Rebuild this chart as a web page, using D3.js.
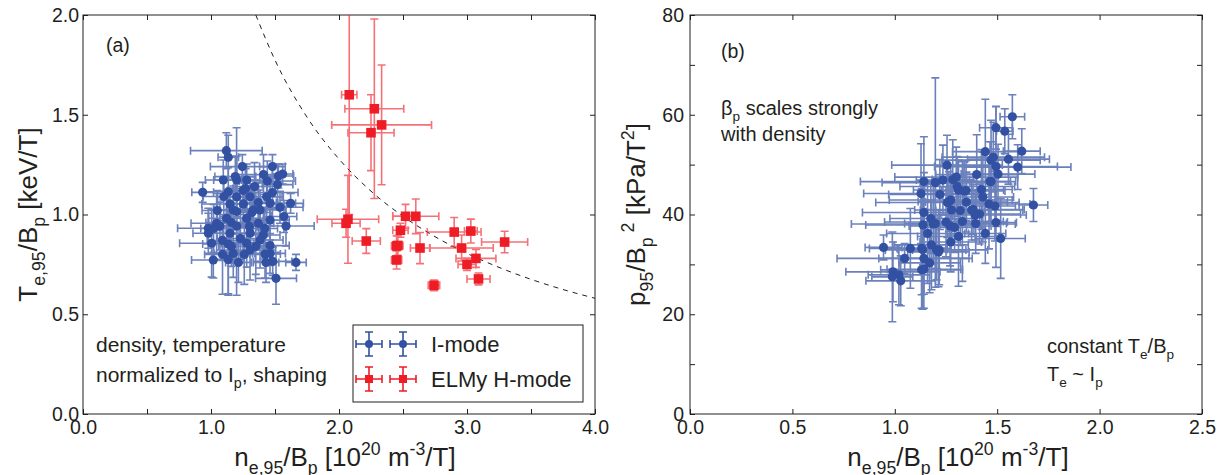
<!DOCTYPE html>
<html><head><meta charset="utf-8">
<script src="https://cdn.jsdelivr.net/npm/d3@7"></script>
<style>
html,body{margin:0;padding:0;background:#fff;}
svg text{font-family:"Liberation Sans",Arial,sans-serif;fill:#231f20;white-space:pre;}
</style></head>
<body>
<svg id="c" width="1223" height="475"></svg>
<script>
// ---------- DATA ----------
// Panel (a): I-mode
const aImodeX    = [1.12,1.135,1.245,1.48,1.56,1.526,1.44,1.201,1.279,1.096,0.935,1.135,1.305,1.435,1.201,1.148,1.253,1.461,1.622,1.539,1.174,1.331,1.383,1.122,1.279,1.461,1.044,0.979,1.07,1.201,1.586,1.37,0.979,1.148,1.305,1.409,1.005,1.135,1.279,1.461,1.383,1.174,1.305,1.461,1.422,1.018,1.135,1.214,1.482,1.664,1.508,1.20,1.34,1.25,1.37,1.05,1.10,1.48,1.30,1.23,1.42,1.09,1.16,1.35,1.26,1.52,1.02,1.19,1.41,1.32,1.16,1.09,1.57,1.43,1.27];
const aImodeY    = [1.32,1.287,1.24,1.24,1.203,1.193,1.168,1.173,1.173,1.173,1.111,1.114,1.089,1.089,1.089,1.053,1.053,1.056,1.056,1.036,1.023,1.023,1.023,0.981,0.981,0.972,0.956,0.931,0.942,0.942,0.942,0.956,0.906,0.906,0.906,0.897,0.856,0.852,0.856,0.844,0.872,0.805,0.822,0.805,0.802,0.772,0.775,0.76,0.765,0.76,0.68,1.015,1.14,1.12,1.06,1.02,1.09,1.11,0.94,0.88,0.93,0.87,0.96,0.84,0.80,1.15,0.93,1.19,1.20,1.01,0.84,0.80,0.99,0.76,1.13];
const aImodeXerr = [0.28,0.08,0.25,0.10,0.08,0.12,0.22,0.18,0.20,0.14,0.085,0.20,0.26,0.12,0.15,0.22,0.12,0.20,0.10,0.18,0.15,0.10,0.20,0.14,0.18,0.15,0.20,0.24,0.10,0.20,0.22,0.12,0.12,0.15,0.14,0.13,0.25,0.20,0.20,0.15,0.18,0.15,0.20,0.12,0.12,0.17,0.12,0.10,0.15,0.08,0.16,0.08,0.16,0.12,0.14,0.12,0.16,0.20,0.12,0.18,0.10,0.12,0.20,0.10,0.14,0.12,0.10,0.16,0.14,0.16,0.10,0.14,0.10,0.10,0.10];
const aImodeYerr = [0.09,0.11,0.06,0.06,0.05,0.06,0.10,0.12,0.08,0.10,0.05,0.12,0.10,0.10,0.10,0.08,0.12,0.10,0.05,0.08,0.12,0.12,0.10,0.14,0.10,0.10,0.15,0.10,0.12,0.13,0.10,0.12,0.10,0.15,0.10,0.12,0.17,0.25,0.12,0.10,0.14,0.12,0.15,0.10,0.12,0.09,0.18,0.10,0.07,0.04,0.13,0.42,0.12,0.08,0.10,0.10,0.10,0.08,0.08,0.12,0.10,0.10,0.10,0.14,0.15,0.10,0.12,0.10,0.10,0.10,0.10,0.20,0.08,0.10,0.10];
// Panel (a): ELMy H-mode
const aHmodeX    = [2.08,2.276,2.333,2.25,2.07,2.055,2.213,2.52,2.60,2.48,2.45,2.46,2.45,2.633,2.90,3.03,3.294,2.958,3.07,3.0,3.09,2.742];
const aHmodeY    = [1.60,1.53,1.449,1.41,0.976,0.956,0.867,0.991,0.991,0.921,0.842,0.845,0.772,0.832,0.912,0.917,0.862,0.832,0.78,0.75,0.677,0.645];
const aHmodeXerr = [0.06,0.23,0.39,0.18,0.24,0.11,0.11,0.10,0.18,0.06,0.04,0.04,0.04,0.075,0.21,0.05,0.18,0.247,0.156,0.07,0.09,0.045];
const aHmodeYerr = [0.60,0.45,0.30,0.19,0.22,0.07,0.062,0.06,0.087,0.035,0.05,0.05,0.045,0.078,0.073,0.06,0.054,0.065,0.045,0.03,0.03,0.027];
// Panel (a): dashed reference curve
const aCurveX = [1.35,1.5,1.75,2.0,2.25,2.5,2.75,3.0,3.25,3.5,3.75,4.0];
const aCurveY = [2.0,1.774,1.488,1.278,1.117,0.991,0.889,0.805,0.735,0.675,0.624,0.58];
// Panel (b): I-mode
const bImodeX    = [1.574,1.494,1.537,1.62,1.442,1.47,1.555,1.60,1.494,1.504,1.255,1.47,1.142,1.198,1.235,1.283,1.311,1.348,1.273,1.264,1.423,1.46,1.489,1.677,1.142,1.176,1.198,1.138,1.277,1.32,1.382,1.414,1.33,1.292,1.395,1.494,1.442,1.517,1.311,1.273,1.16,1.179,1.136,1.217,1.076,0.945,1.048,1.142,1.17,0.991,1.02,0.988,1.029,1.142,1.338,1.375,1.392,1.257,1.128,1.481,1.465,1.305,1.27,1.188,1.213,1.131,1.204,1.131,1.25,1.35,1.43,1.22,1.40,1.30];
const bImodeY    = [59.6,57.4,56.7,52.7,52.6,50.9,51.1,49.5,49.6,48.1,49.9,46.6,46.6,46.4,46.9,47.0,44.9,44.8,42.9,42.6,45.0,42.1,41.7,41.9,40.4,39.2,38.2,37.9,40.9,40.8,41.0,40.1,38.6,37.4,38.2,38.4,36.2,35.2,35.6,34.5,36.2,33.9,33.0,32.9,33.2,33.4,31.2,31.2,30.3,28.5,27.9,27.5,26.7,29.0,44.7,40.9,39.9,42.4,44.2,51.5,46.6,45.6,37.7,38.1,32.5,28.9,32.9,33.2,38.5,42.5,43.5,44.0,48.0,47.5];
const bImodeXerr = [0.06,0.08,0.04,0.09,0.16,0.24,0.20,0.26,0.30,0.18,0.27,0.12,0.31,0.26,0.13,0.10,0.22,0.12,0.30,0.15,0.15,0.20,0.10,0.07,0.30,0.20,0.15,0.28,0.18,0.12,0.25,0.20,0.20,0.15,0.15,0.10,0.10,0.12,0.20,0.15,0.20,0.18,0.12,0.13,0.20,0.09,0.33,0.22,0.15,0.23,0.15,0.10,0.17,0.18,0.20,0.25,0.25,0.35,0.28,0.25,0.10,0.28,0.20,0.40,0.15,0.20,0.25,0.12,0.30,0.20,0.15,0.25,0.20,0.30];
const bImodeYerr = [4.4,4.3,4.5,4.5,10.5,8,5,4.5,12,6,6,8,9,21,7,8,6,6,7,6,8,9,7,3.3,8,7,9,8,6,7,5,6,12,5,6,9,6,8,10,6,10,9,12,7,8,2.5,3,10,6,6,6,9,5,5,6,6,5,7,10,7,8,6,8,8,7,5,6,12,7,6,9,7,8,6];
// Axes ticks
const aXTicks = [0,0.5,1,1.5,2,2.5,3,3.5,4];
const aXLabels = [0,1,2,3,4];
const aYTicks = [0,0.5,1,1.5,2];
const bXTicks = [0,0.5,1,1.5,2,2.5];
const bYTicks = [0,10,20,30,40,50,60,70,80];
const bYLabels = [0,20,40,60,80];
const legendLabels = ["I-mode","ELMy H-mode"];

// ---------- DRAWING ----------
const svg = d3.select("#c");
const BLUE = "#3351a3", RED = "#ee1d25", INK = "#231f20";

function rich(g, x, y, parts, fs, anchor, transform){
  const t = g.append("text").attr("x",x).attr("y",y).attr("font-size",fs)
    .attr("text-anchor",anchor||"start");
  if (transform) t.attr("transform",transform);
  let cur = 0;
  parts.forEach(([s,k])=>{
    const target = k==="sub" ? 0.3*fs : (k==="sup" ? -0.42*fs : 0);
    t.append("tspan").attr("dy",(target-cur).toFixed(2))
      .attr("font-size", k==="n" ? fs : fs*0.68).text(s);
    cur = target;
  });
  return t;
}

function panel(id, xs, ys, xTicks, xLab, yTicks, yLab){
  const g = svg.append("g");
  const [x0,x1] = xs.range(), [y0,y1] = ys.range();
  g.append("clipPath").attr("id","clip"+id).append("rect")
    .attr("x",x0).attr("y",y1).attr("width",x1-x0).attr("height",y0-y1);
  const ax = (axis, tr) => {
    const a = g.append("g").attr("transform",tr).call(axis);
    a.select(".domain").remove();
    a.selectAll("line").attr("stroke",INK);
    a.selectAll("text").attr("font-family",null).attr("font-size",19.5).attr("fill",INK);
    return a;
  };
  ax(d3.axisBottom(xs).tickValues(xTicks).tickSize(-5).tickPadding(6).tickFormat(xLab), `translate(0,${y0})`);
  ax(d3.axisTop(xs).tickValues(xTicks).tickSize(-5).tickFormat(""), `translate(0,${y1})`);
  ax(d3.axisLeft(ys).tickValues(yTicks).tickSize(-5).tickPadding(id==="a"?4:6).tickFormat(yLab), `translate(${x0},0)`);
  ax(d3.axisRight(ys).tickValues(yTicks).tickSize(-5).tickFormat(""), `translate(${x1},0)`);
  g.append("rect").attr("x",x0).attr("y",y1).attr("width",x1-x0).attr("height",y0-y1)
    .attr("fill","none").attr("stroke",INK).attr("stroke-width",1);
  const plot = g.append("g").attr("clip-path",`url(#clip${id})`);
  return {g, plot};
}

function errorbars(plot, xs, ys, X, Y, XE, YE, color, opacity){
  const cap = 4;
  const eb = plot.append("g").attr("stroke",color).attr("stroke-width",1.6).attr("opacity",opacity);
  X.forEach((xv,i)=>{
    const cx = xs(xv), cy = ys(Y[i]);
    const xl = xs(xv-XE[i]), xr = xs(xv+XE[i]);
    const yt = ys(Y[i]+YE[i]), yb = ys(Y[i]-YE[i]);
    const p = d3.path();
    p.moveTo(xl,cy); p.lineTo(xr,cy);
    p.moveTo(xl,cy-cap); p.lineTo(xl,cy+cap);
    p.moveTo(xr,cy-cap); p.lineTo(xr,cy+cap);
    p.moveTo(cx,yt); p.lineTo(cx,yb);
    p.moveTo(cx-cap,yt); p.lineTo(cx+cap,yt);
    p.moveTo(cx-cap,yb); p.lineTo(cx+cap,yb);
    eb.append("path").attr("d",p.toString()).attr("fill","none");
  });
}

// ----- Panel (a)
const xA = d3.scaleLinear().domain([0,4]).range([83,595]);
const yA = d3.scaleLinear().domain([0,2]).range([414,15]);
const PA = panel("a", xA, yA, aXTicks, d=>aXLabels.includes(d)?d.toFixed(1):"", aYTicks, d=>d.toFixed(1));

PA.plot.append("path")
  .attr("d", d3.line().x(d=>xA(d[0])).y(d=>yA(d[1])).curve(d3.curveMonotoneX)(aCurveX.map((v,i)=>[v,aCurveY[i]])))
  .attr("fill","none").attr("stroke",INK).attr("stroke-width",1).attr("stroke-dasharray","5,5");

errorbars(PA.plot, xA, yA, aImodeX, aImodeY, aImodeXerr, aImodeYerr, BLUE, 0.72);
PA.plot.append("g").selectAll("circle").data(aImodeX).join("circle")
  .attr("cx",(d)=>xA(d)).attr("cy",(d,i)=>yA(aImodeY[i])).attr("r",4.6).attr("fill",BLUE);
errorbars(PA.plot, xA, yA, aHmodeX, aHmodeY, aHmodeXerr, aHmodeYerr, RED, 0.62);
PA.plot.append("g").selectAll("rect").data(aHmodeX).join("rect")
  .attr("x",d=>xA(d)-4.8).attr("y",(d,i)=>yA(aHmodeY[i])-4.8).attr("width",9.6).attr("height",9.6).attr("fill",RED);

svg.append("text").attr("x",106).attr("y",52).attr("font-size",19.5).text("(a)");
svg.append("text").attr("x",96).attr("y",352).attr("font-size",21).text("density, temperature");
rich(svg, 96, 382, [["normalized to I","n"],["p","sub"],[", shaping","n"]], 21);

// legend
const lg = svg.append("g");
lg.append("rect").attr("x",353).attr("y",325).attr("width",230).attr("height",77)
  .attr("fill","#fff").attr("stroke",INK).attr("stroke-width",1);
const legendItems = [{c:BLUE, shape:"circle", y:344},{c:RED, shape:"square", y:379}];
legendItems.forEach((it,k)=>{
  [369,403].forEach(cx=>{
    const p = d3.path(), cy = it.y;
    p.moveTo(cx-13,cy); p.lineTo(cx+13,cy);
    p.moveTo(cx-13,cy-4); p.lineTo(cx-13,cy+4);
    p.moveTo(cx+13,cy-4); p.lineTo(cx+13,cy+4);
    p.moveTo(cx,cy-12); p.lineTo(cx,cy+12);
    p.moveTo(cx-4,cy-12); p.lineTo(cx+4,cy-12);
    p.moveTo(cx-4,cy+12); p.lineTo(cx+4,cy+12);
    lg.append("path").attr("d",p.toString()).attr("stroke",it.c).attr("stroke-width",1.6).attr("fill","none");
    if (it.shape==="circle") lg.append("circle").attr("cx",cx).attr("cy",cy).attr("r",4).attr("fill",it.c);
    else lg.append("rect").attr("x",cx-4).attr("y",cy-4).attr("width",8).attr("height",8).attr("fill",it.c);
  });
  lg.append("text").attr("x",431).attr("y",it.y+8).attr("font-size",22).text(legendLabels[k]);
});

rich(svg, 345, 466, [["n","n"],["e,95","sub"],["/B","n"],["p","sub"],[" [10","n"],["20","sup"],[" m","n"],["-3","sup"],["/T]","n"]], 26, "middle");
rich(svg, 0, 0, [["T","n"],["e,95","sub"],["/B","n"],["p","sub"],[" [keV/T]","n"]], 26, "middle", "translate(37,214.5) rotate(-90)");

// ----- Panel (b)
const xB = d3.scaleLinear().domain([0,2.5]).range([690,1202]);
const yB = d3.scaleLinear().domain([0,80]).range([414,15]);
const PB = panel("b", xB, yB, bXTicks, d=>d.toFixed(1), bYTicks, d=>bYLabels.includes(d)?String(d):"");
errorbars(PB.plot, xB, yB, bImodeX, bImodeY, bImodeXerr, bImodeYerr, BLUE, 0.72);
PB.plot.append("g").selectAll("circle").data(bImodeX).join("circle")
  .attr("cx",d=>xB(d)).attr("cy",(d,i)=>yB(bImodeY[i])).attr("r",4.6).attr("fill",BLUE);

svg.append("text").attr("x",721).attr("y",58).attr("font-size",19.5).text("(b)");
rich(svg, 721, 115, [["β","n"],["p","sub"],[" scales strongly","n"]], 20);
svg.append("text").attr("x",721).attr("y",141).attr("font-size",20).text("with density");
rich(svg, 1047, 353, [["constant T","n"],["e","sub"],["/B","n"],["p","sub"]], 20);
rich(svg, 1047, 381, [["T","n"],["e","sub"],[" ~ I","n"],["p","sub"]], 20);

rich(svg, 958, 466, [["n","n"],["e,95","sub"],["/B","n"],["p","sub"],[" [10","n"],["20","sup"],[" m","n"],["-3","sup"],["/T]","n"]], 26, "middle");
rich(svg, 0, 0, [["p","n"],["95","sub"],["/B","n"],["p","sub"],[" 2","sup"],[" [kPa/T","n"],["2","sup"],["]","n"]], 26, "middle", "translate(645,214.5) rotate(-90)");
</script>
</body></html>
